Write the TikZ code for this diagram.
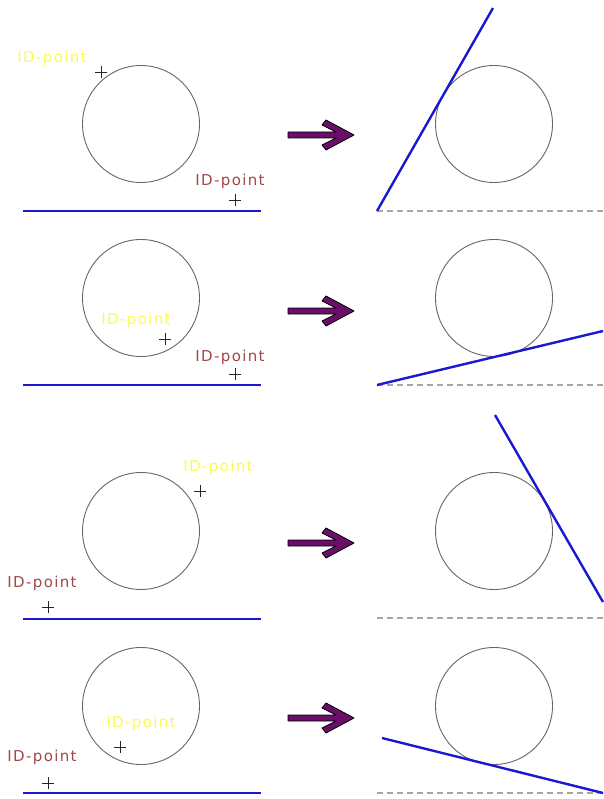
\documentclass[tikz,border=0pt]{standalone}
\usepackage{fontspec}
\setmainfont{DejaVu Sans}
\newfontfamily\idfont[LetterSpace=9]{DejaVu Sans}
\usetikzlibrary{shapes.misc}
\definecolor{idyellow}{RGB}{250,250,80}
\definecolor{idbrown}{RGB}{160,72,72}
\definecolor{lineblue}{RGB}{25,25,210}
\definecolor{arrowpurple}{RGB}{105,15,105}
\tikzset{
  ball/.style={circle,draw=black!60,line width=0.9pt,minimum size=117pt,inner sep=0pt},
  idmark/.style={draw=black!85,cross out,rotate=45,line width=0.9pt,minimum size=7pt,inner sep=0pt},
  idlabel/.style={font=\idfont\fontsize{15}{15}\selectfont,inner sep=0pt},
  firstlabel/.style={idlabel,text=idyellow},
  secondlabel/.style={idlabel,text=idbrown},
  floor/.style={draw=lineblue,line width=2.4pt},
  oldfloor/.style={draw=black!35,line width=1.4pt,dash pattern=on 6pt off 4pt},
  turnarrow/.pic={
    \filldraw[fill=arrowpurple,draw=black,line width=0.8pt,line join=round]
      (-32,-3) -- (16,-3) -- (2,-10) -- (6,-15) -- (34,0) -- (6,15) -- (2,10) -- (16,3) -- (-32,3) -- cycle;
  }
}

\begin{document}
\begin{tikzpicture}[x=1pt,y=-1pt]
  \useasboundingbox (0,0) rectangle (603,799);

  % row 1: points outside the ball
  \node[ball] (ballA) at (141,124) {};
  \node[idmark] (pA1) at (101,72) {};
  \node[firstlabel] (lA1) at (52,58) {ID-point};
  \node[idmark] (pA2) at (235,200) {};
  \node[secondlabel] (lA2) at (230,181) {ID-point};
  \coordinate (fA1) at (23,211);
  \coordinate (fA2) at (261,211);
  \draw[floor] (fA1) -- (fA2);
  \pic (arrA) at (320,135) {turnarrow};
  \node[ball] (ballA') at (494,124) {};
  \coordinate (gA1) at (377,211);
  \coordinate (gA2) at (603,211);
  \coordinate (gA3) at (493,8);
  \draw[oldfloor] (gA1) -- (gA2);
  \draw[floor] (gA1) -- (gA3);

  % row 2
  \node[ball] (ballB) at (141,298) {};
  \node[idmark] (pB1) at (165,339) {};
  \node[firstlabel] (lB1) at (136,320) {ID-point};
  \node[idmark] (pB2) at (235,374) {};
  \node[secondlabel] (lB2) at (230,357) {ID-point};
  \coordinate (fB1) at (23,385);
  \coordinate (fB2) at (261,385);
  \draw[floor] (fB1) -- (fB2);
  \pic (arrB) at (320,311) {turnarrow};
  \node[ball] (ballB') at (494,298) {};
  \coordinate (gB1) at (377,385);
  \coordinate (gB2) at (603,385);
  \coordinate (gB3) at (603,331);
  \draw[oldfloor] (gB1) -- (gB2);
  \draw[floor] (gB1) -- (gB3);

  % row 3
  \node[ball] (ballC) at (141,531) {};
  \node[idmark] (pC1) at (200,491) {};
  \node[firstlabel] (lC1) at (218,467) {ID-point};
  \node[idmark] (pC2) at (48,607) {};
  \node[secondlabel] (lC2) at (42,583) {ID-point};
  \coordinate (fC1) at (23,619);
  \coordinate (fC2) at (261,619);
  \draw[floor] (fC1) -- (fC2);
  \pic (arrC) at (320,543) {turnarrow};
  \node[ball] (ballC') at (494,531) {};
  \coordinate (gC1) at (377,618);
  \coordinate (gC2) at (603,618);
  \coordinate (gC3) at (495,415);
  \coordinate (gC4) at (603,602);
  \draw[oldfloor] (gC1) -- (gC2);
  \draw[floor] (gC3) -- (gC4);

  % row 4
  \node[ball] (ballD) at (141,706) {};
  \node[idmark] (pD1) at (120,747) {};
  \node[firstlabel] (lD1) at (141,723) {ID-point};
  \node[idmark] (pD2) at (48,783) {};
  \node[secondlabel] (lD2) at (42,757) {ID-point};
  \coordinate (fD1) at (23,793);
  \coordinate (fD2) at (261,793);
  \draw[floor] (fD1) -- (fD2);
  \pic (arrD) at (320,718) {turnarrow};
  \node[ball] (ballD') at (494,706) {};
  \coordinate (gD1) at (377,793);
  \coordinate (gD2) at (603,793);
  \coordinate (gD3) at (382,738);
  \draw[oldfloor] (gD1) -- (gD2);
  \draw[floor] (gD3) -- (gD2);
\end{tikzpicture}
\end{document}
